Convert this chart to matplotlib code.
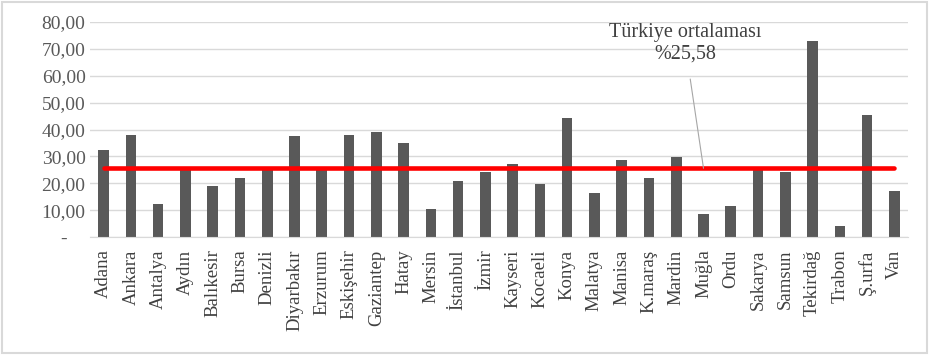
import matplotlib.pyplot as plt
from matplotlib.patches import Rectangle

plt.rcParams['font.family'] = ['Liberation Serif', 'DejaVu Serif']

cities = ['Adana', 'Ankara', 'Antalya', 'Aydın', 'Balıkesir', 'Bursa', 'Denizli',
          'Diyarbakır', 'Erzurum', 'Eskişehir', 'Gaziantep', 'Hatay', 'Mersin',
          'İstanbul', 'İzmir', 'Kayseri', 'Kocaeli', 'Konya', 'Malatya', 'Manisa',
          'K.maraş', 'Mardin', 'Muğla', 'Ordu', 'Sakarya', 'Samsun', 'Tekirdağ',
          'Trabon', 'Ş.urfa', 'Van']
values = [32.2, 37.9, 12.2, 25.3, 19.0, 21.9, 25.2, 37.4, 25.2, 37.9, 39.0, 35.0,
          10.4, 20.7, 24.1, 27.1, 19.6, 44.2, 16.3, 28.7, 21.9, 29.9, 8.7, 11.6,
          25.3, 24.1, 72.8, 4.1, 45.3, 17.3]
turkey_avg = 25.58
y_ticks = [0, 10, 20, 30, 40, 50, 60, 70, 80]

fig = plt.figure(figsize=(9.3, 3.55), dpi=100)
ax = fig.add_axes([90 / 930, 1 - 237 / 355, 818 / 930, 215 / 355])

x = list(range(len(cities)))
ax.bar(x, values, width=0.39, color='#595959', zorder=2)
ax.plot([x[0], x[-1]], [turkey_avg, turkey_avg], color='#ff0000', lw=3.3, zorder=3,
        solid_capstyle='round')

ax.set_xlim(-0.5, len(cities) - 0.5)
ax.set_ylim(0, 80)
ax.set_yticks(y_ticks)
ax.set_yticklabels(['-' if v == 0 else f'{v:.2f}'.replace('.', ',') for v in y_ticks],
                   fontsize=14, color='#595959')
ax.set_xticks(x)
ax.set_xticklabels(cities, rotation=90, fontsize=13.5, color='#404040')
ax.tick_params(axis='x', length=0, pad=9)
ax.tick_params(axis='y', length=0, pad=19)
for lbl in ax.get_yticklabels():
    lbl.set_horizontalalignment('center')

ax.grid(axis='y', color='#d9d9d9', lw=1, zorder=0)
for side in ['top', 'right', 'left']:
    ax.spines[side].set_visible(False)
ax.spines['bottom'].set_color('#d9d9d9')

# average label with a thin leader line down to the red line
ax.annotate('Türkiye ortalaması\n%25,58', xy=(22.0, turkey_avg), xytext=(21.32, 72.0),
            ha='center', va='center', fontsize=14.5, color='#404040', linespacing=1.2,
            arrowprops=dict(arrowstyle='-', color='#a6a6a6', lw=0.8,
                            shrinkA=9, shrinkB=0))

fig.patches.append(Rectangle((0.002, 0.005), 0.995, 0.99, transform=fig.transFigure,
                             fill=False, edgecolor='#d9d9d9', lw=1.5))

fig.savefig('out.png', dpi=100)
